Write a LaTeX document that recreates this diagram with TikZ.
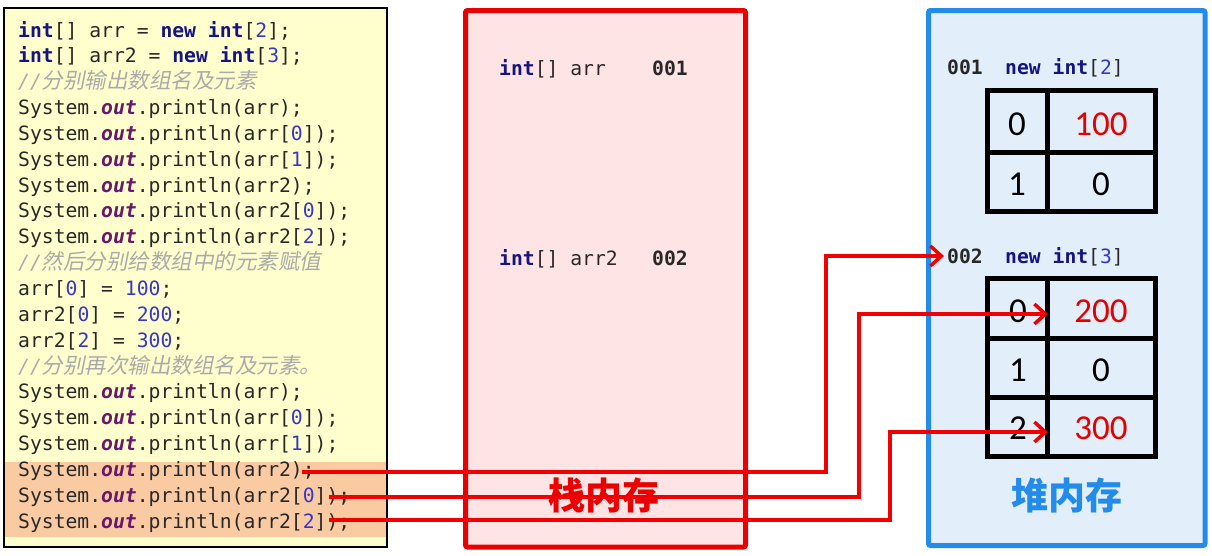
\documentclass[tikz,border=0pt]{standalone}
\usepackage{fontspec}
\usetikzlibrary{arrows.meta}
\setmonofont{DejaVu Sans Mono}
\newfontfamily\cjk{Noto Sans CJK SC}
\newfontfamily\cjksl{Noto Sans CJK SC}[FakeSlant=0.2]
\newfontfamily\numfont{Carlito}
\definecolor{kwc}{RGB}{20,20,130}
\definecolor{numc}{RGB}{55,55,200}
\definecolor{outc}{RGB}{105,25,105}
\definecolor{cmc}{RGB}{170,170,170}
\definecolor{codec}{RGB}{40,40,40}
\definecolor{codefill}{RGB}{255,255,206}
\definecolor{hilite}{RGB}{250,203,163}
\definecolor{stackfill}{RGB}{255,228,229}
\definecolor{stackred}{RGB}{235,0,0}
\definecolor{heapfill}{RGB}{226,239,251}
\definecolor{heapblue}{RGB}{35,140,235}
\definecolor{arrred}{RGB}{240,0,0}
\newcommand\jkw[1]{\textbf{\color{kwc}#1}}
\newcommand\jn[1]{{\color{numc}#1}}
\newcommand\jout{\textbf{\textit{\color{outc}out}}}
\newcommand\jcm[1]{{\color{cmc}\textit{//}{\cjksl\fontsize{21.5}{26}\selectfont #1}}}
\newcommand\jsys[1]{System.\jout.println(#1);}
\tikzset{
  code/.style={anchor=base west, inner sep=0pt, font=\ttfamily\fontsize{19.7}{24}\selectfont, text=codec},
  tbl/.style={line width=5pt, draw=black},
  cellnum/.style={inner sep=0pt, font=\numfont\fontsize{35}{38}\selectfont, text=black},
  cellred/.style={cellnum, text=red!90!black},
  arr/.style={draw=arrred, line width=3.5pt, -{Straight Barb[length=11pt,width=20pt,line width=3.5pt]}},
  biglabel/.style={inner sep=0pt, font=\cjk\bfseries\fontsize{37}{40}\selectfont}
}
\begin{document}
\begin{tikzpicture}[x=1pt,y=-1pt]
\useasboundingbox (0,0) rectangle (1212,555);
\fill[white] (0,0) rectangle (1212,555);
% code box
\draw[fill=codefill, line width=2pt] (4,8) rectangle (387,547);
\fill[hilite] (5,462) rectangle (386,537);
\node[code] (l1) at (18,37) {\jkw{int}[] arr = \jkw{new} \jkw{int}[\jn{2}];};
\node[code] (l2) at (18,62.85) {\jkw{int}[] arr2 = \jkw{new} \jkw{int}[\jn{3}];};
\node[code] (l3) at (18,88.7) {\jcm{分别输出数组名及元素}};
\node[code] (l4) at (18,114.55) {\jsys{arr}};
\node[code] (l5) at (18,140.4) {\jsys{arr[\jn{0}]}};
\node[code] (l6) at (18,166.25) {\jsys{arr[\jn{1}]}};
\node[code] (l7) at (18,192.1) {\jsys{arr2}};
\node[code] (l8) at (18,217.95) {\jsys{arr2[\jn{0}]}};
\node[code] (l9) at (18,243.8) {\jsys{arr2[\jn{2}]}};
\node[code] (l10) at (18,269.65) {\jcm{然后分别给数组中的元素赋值}};
\node[code] (l11) at (18,295.5) {arr[\jn{0}] = \jn{100};};
\node[code] (l12) at (18,321.35) {arr2[\jn{0}] = \jn{200};};
\node[code] (l13) at (18,347.2) {arr2[\jn{2}] = \jn{300};};
\node[code] (l14) at (18,373.05) {\jcm{分别再次输出数组名及元素。}};
\node[code] (l15) at (18,398.9) {\jsys{arr}};
\node[code] (l16) at (18,424.75) {\jsys{arr[\jn{0}]}};
\node[code] (l17) at (18,450.6) {\jsys{arr[\jn{1}]}};
\node[code] (l18) at (18,476.45) {\jsys{arr2}};
\node[code] (l19) at (18,502.3) {\jsys{arr2[\jn{0}]}};
\node[code] (l20) at (18,528.15) {\jsys{arr2[\jn{2}]}};
% stack
\draw[fill=stackfill, draw=stackred, line width=5pt, rounded corners=2pt] (465.5,10.5) rectangle (745.5,547);
\node[code] (sa1) at (499,75) {\jkw{int}[] arr};
\node[code] (sv1) at (652,75) {\textbf{001}};
\node[code] (sa2) at (499,265) {\jkw{int}[] arr2};
\node[code] (sv2) at (652,265) {\textbf{002}};
\node[biglabel, text=stackred] (stk) at (604,495) {栈内存};
% heap
\draw[fill=heapfill, draw=heapblue, line width=5pt, rounded corners=2pt] (928.5,10.5) rectangle (1205,545.5);
\node[code] (h1) at (947,74) {\textbf{001}};
\node[code] (h1t) at (1005,74) {\jkw{new} \jkw{int}[\jn{2}]};
\node[code] (h2) at (947,263) {\textbf{002}};
\node[code] (h2t) at (1005,263) {\jkw{new} \jkw{int}[\jn{3}]};
% table 1
\draw[tbl] (987,90) rectangle (1155,211);
\draw[tbl] (1047.5,90) -- (1047.5,211);
\draw[tbl] (987,152) -- (1155,152);
\node[cellnum] (i10) at (1017,124) {0};
\node[cellred] (v10) at (1101,124) {100};
\node[cellnum] (i11) at (1017,184) {1};
\node[cellnum] (v11) at (1101,184) {0};
% table 2
\draw[tbl] (987,278) rectangle (1155,456);
\draw[tbl] (1047.5,278) -- (1047.5,456);
\draw[tbl] (987,338) -- (1155,338);
\draw[tbl] (987,397) -- (1155,397);
\node[cellnum] (i20) at (1018,311) {0};
\node[cellred] (v20) at (1101,311) {200};
\node[cellnum] (i21) at (1018,370) {1};
\node[cellnum] (v21) at (1101,370) {0};
\node[cellnum] (i22) at (1018,428) {2};
\node[cellred] (v22) at (1101,428) {300};
\node[biglabel, text=heapblue] (hp) at (1067,495) {堆内存};
% arrows
\coordinate (s1) at (302,472);
\coordinate (k1) at (826,256);
\coordinate (t1) at (944,256);
\coordinate (s2) at (329,497);
\coordinate (k2) at (859,314);
\coordinate (t2) at (1048,314);
\coordinate (s3) at (329,520);
\coordinate (k3) at (890,432);
\coordinate (t3) at (1048,432);
\draw[arr] (s1) -| (k1) -- (t1);
\draw[arr] (s2) -| (k2) -- (t2);
\draw[arr] (s3) -| (k3) -- (t3);
\end{tikzpicture}
\end{document}
